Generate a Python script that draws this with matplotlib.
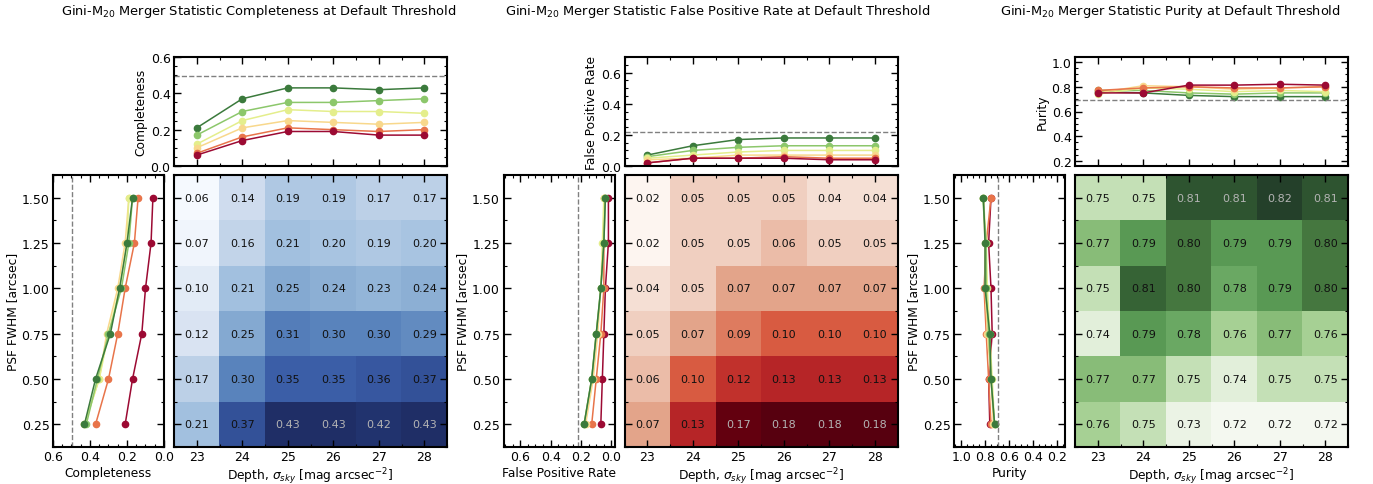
import numpy as np
import matplotlib
matplotlib.use('Agg')
import matplotlib.pyplot as plt
from matplotlib.ticker import AutoMinorLocator, MultipleLocator
from matplotlib.colors import LinearSegmentedColormap

depths = [23, 24, 25, 26, 27, 28]
psf = [0.25, 0.50, 0.75, 1.00, 1.25, 1.50]

# rows = psf (0.25 -> 1.50), cols = depth (23 -> 28)
completeness = np.array([
    [0.21, 0.37, 0.43, 0.43, 0.42, 0.43],
    [0.17, 0.30, 0.35, 0.35, 0.36, 0.37],
    [0.12, 0.25, 0.31, 0.30, 0.30, 0.29],
    [0.10, 0.21, 0.25, 0.24, 0.23, 0.24],
    [0.07, 0.16, 0.21, 0.20, 0.19, 0.20],
    [0.06, 0.14, 0.19, 0.19, 0.17, 0.17],
])
false_pos = np.array([
    [0.07, 0.13, 0.17, 0.18, 0.18, 0.18],
    [0.06, 0.10, 0.12, 0.13, 0.13, 0.13],
    [0.05, 0.07, 0.09, 0.10, 0.10, 0.10],
    [0.04, 0.05, 0.07, 0.07, 0.07, 0.07],
    [0.02, 0.05, 0.05, 0.06, 0.05, 0.05],
    [0.02, 0.05, 0.05, 0.05, 0.04, 0.04],
])
purity = np.array([
    [0.76, 0.75, 0.73, 0.72, 0.72, 0.72],
    [0.77, 0.77, 0.75, 0.74, 0.75, 0.75],
    [0.74, 0.79, 0.78, 0.76, 0.77, 0.76],
    [0.75, 0.808, 0.80, 0.78, 0.79, 0.80],
    [0.77, 0.79, 0.80, 0.79, 0.79, 0.80],
    [0.75, 0.75, 0.813, 0.813, 0.82, 0.813],
])

thresholds = [0.495, 0.22, 0.69]
names = ["Completeness", "False Positive Rate", "Purity"]
titles = ["Gini-M$_{20}$ Merger Statistic Completeness at Default Threshold",
          "Gini-M$_{20}$ Merger Statistic False Positive Rate at Default Threshold",
          "Gini-M$_{20}$ Merger Statistic Purity at Default Threshold"]

line_colors = ['#3b7a3c', '#8cc76b', '#e4ee8c', '#f8d88c', '#e8744a', '#9c0a33']

blues = LinearSegmentedColormap.from_list('bl', [
    (0, '#f5f9fe'), (0.22, '#cfdcee'), (0.405, '#a2c0df'), (0.51, '#86abd2'),
    (0.65, '#5a84bd'), (0.78, '#3c5fa9'), (0.9, '#2b4488'), (1, '#1f2e66')])
reds = LinearSegmentedColormap.from_list('rd', [
    (0, '#fdf5f0'), (0.125, '#f6e0d5'), (0.19, '#f0cfc0'), (0.25, '#ebbca7'),
    (0.31, '#e4a68c'), (0.44, '#de7a5e'), (0.5, '#d95c42'), (0.625, '#c1312c'),
    (0.69, '#b72628'), (0.94, '#640010'), (1, '#57000f')])
greens = LinearSegmentedColormap.from_list('gr', [
    (0, '#f4f8f0'), (0.2, '#e2efda'), (0.3, '#c4e0b6'), (0.45, '#98c884'),
    (0.6, '#6aa863'), (0.7, '#5a9a55'), (0.8, '#45773f'), (0.9, '#335f33'),
    (1, '#24402a')])
cmaps = [blues, reds, greens]

top_ylims = [(0, 0.6), (0, 0.7), (0.16, 1.04)]
side_xlims = [(0.6, 0.0), (0.71, -0.02), (1.06, 0.13)]

W, H = 1373, 485
fig = plt.figure(figsize=(W / 100, H / 100), dpi=100)

def px(x0, y0, x1, y1):
    return [x0 / W, 1 - y1 / H, (x1 - x0) / W, (y1 - y0) / H]

def style(ax):
    ax.tick_params(which='both', direction='in', top=True, right=True, labelsize=9,
                   colors='black', pad=2.5)
    ax.tick_params(which='major', length=5, width=1)
    ax.tick_params(which='minor', length=2.5, width=0.8)
    for s in ax.spines.values():
        s.set_linewidth(1.5)

title_x = [259, 718, 1170]

for k, data in enumerate([completeness, false_pos, purity]):
    off = k * 450.5
    ax_side = fig.add_axes(px(53 + off, 176, 164 + off, 448))
    ax_hm = fig.add_axes(px(174 + off, 176, 447 + off, 448))
    ax_top = fig.add_axes(px(174 + off, 58, 447 + off, 167))

    # heatmap
    norm_min, norm_max = data.min(), data.max()
    ax_hm.imshow(data, origin='lower', aspect='auto', cmap=cmaps[k],
                 extent=[22.5, 28.5, 0.125, 1.625], vmin=norm_min, vmax=norm_max)
    for i in range(len(psf)):
        for j in range(len(depths)):
            v = data[i, j]
            frac = (v - norm_min) / (norm_max - norm_min)
            c = '#b4b4b4' if frac > 0.9 else '#111111'
            ax_hm.text(depths[j], psf[i], "%.2f" % v, ha='center', va='center',
                       fontsize=8, color=c)
    ax_hm.set_xticks(depths)
    ax_hm.set_yticks(psf)
    ax_hm.set_yticklabels([])
    ax_hm.xaxis.set_minor_locator(AutoMinorLocator(2))
    ax_hm.yaxis.set_minor_locator(AutoMinorLocator(2))
    ax_hm.set_xlabel(r"Depth, $\sigma_{sky}$ [mag arcsec$^{-2}$]", fontsize=8.8, labelpad=1.5)
    style(ax_hm)

    # top panel: one line per psf
    for i in range(len(psf)):
        ax_top.plot(depths, data[i], '-o', color=line_colors[i], ms=4.5, lw=1.1)
    ax_top.axhline(thresholds[k], color='gray', ls='--', lw=1)
    ax_top.set_xlim(22.5, 28.5)
    ax_top.set_ylim(*top_ylims[k])
    ax_top.set_xticks(depths)
    ax_top.set_xticklabels([])
    ax_top.xaxis.set_minor_locator(AutoMinorLocator(2))
    ax_top.yaxis.set_major_locator(MultipleLocator(0.2))
    ax_top.yaxis.set_minor_locator(AutoMinorLocator(4))
    ax_top.set_ylabel(names[k], fontsize=8.8, labelpad=2)
    style(ax_top)

    # side panel: one line per depth
    for j in range(len(depths)):
        ax_side.plot(data[:, j], psf, '-o', color=line_colors[::-1][j], ms=4.5, lw=1.1)
    ax_side.axvline(thresholds[k], color='gray', ls='--', lw=1)
    ax_side.set_ylim(0.125, 1.625)
    ax_side.set_xlim(*side_xlims[k])
    ax_side.set_yticks(psf)
    ax_side.set_yticklabels(["%.2f" % p for p in psf])
    ax_side.yaxis.set_minor_locator(AutoMinorLocator(2))
    ax_side.xaxis.set_major_locator(MultipleLocator(0.2))
    ax_side.xaxis.set_minor_locator(AutoMinorLocator(4))
    ax_side.set_xlabel(names[k], fontsize=8.8, labelpad=1.5)
    ax_side.set_ylabel("PSF FWHM [arcsec]", fontsize=8.8, labelpad=2)
    style(ax_side)

    fig.text(title_x[k] / W, 1 - 12 / H, titles[k], ha='center', va='center', fontsize=9.4)

fig.savefig("out.png", dpi=100)
